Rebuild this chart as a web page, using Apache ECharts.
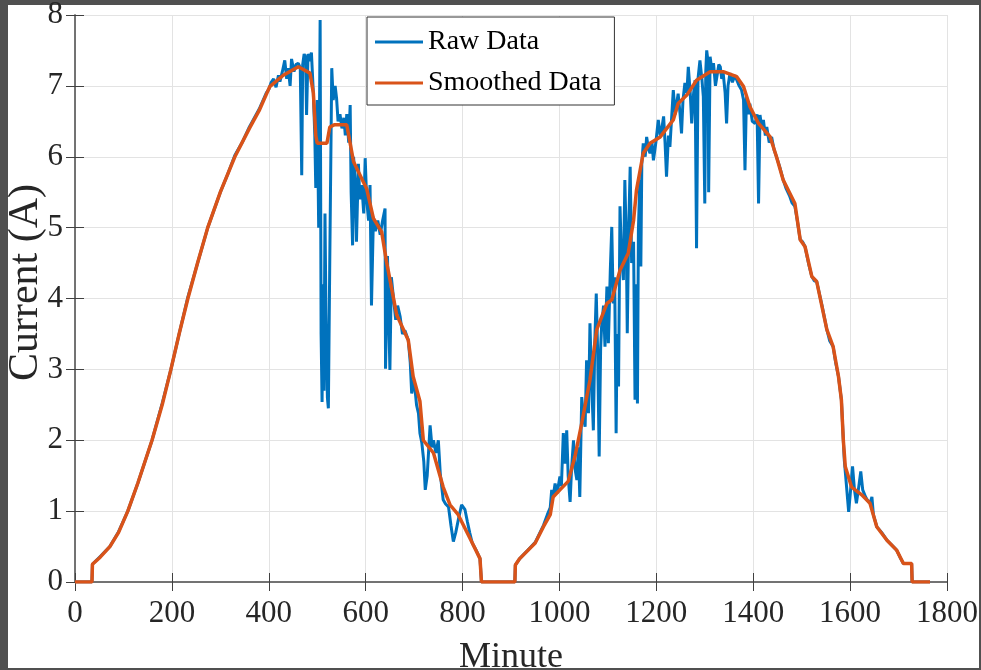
<!DOCTYPE html>
<html>
<head>
<meta charset="utf-8">
<script src="https://cdn.jsdelivr.net/npm/echarts@6/dist/echarts.min.js"></script>
<style>
html,body{margin:0;padding:0;background:#505050;}
#frame{position:absolute;left:8px;top:5px;width:971px;height:663px;background:#fff;}
#chart{position:absolute;left:0;top:0;width:981px;height:670px;}
</style>
</head>
<body>
<div id="frame"></div>
<div id="chart"></div>
<script>
// ---- data (minute, current in A) ----
const xTicks = [0, 200, 400, 600, 800, 1000, 1200, 1400, 1600, 1800];
const yTicks = [0, 1, 2, 3, 4, 5, 6, 7, 8];
const seriesNames = ['Raw Data', 'Smoothed Data'];

const rawData = [
[0,0],[35,0],[36,0.25],[52,0.36],[72,0.5],[90,0.71],[109,1.0],[130,1.4],[159,2.0],[180,2.52],[198,3.0],[215,3.5],[233,4.02],[253,4.5],[274,5.0],[300,5.5],[315,5.75],[330,6.02],[345,6.2],[360,6.42],[380,6.67],[395,6.9],
[400,6.95],[405,7.05],[410,7.1],[415,6.98],[420,7.15],[423,7.06],[428,7.2],[433,7.36],[437,7.1],[440,7.25],[444,7.0],[447,7.38],[452,7.2],[456,7.3],[461,7.32],[465,7.25],[468,5.74],[470,7.3],[473,7.45],[476,7.4],[478,6.59],[481,7.45],[485,7.35],[488,7.47],[492,6.9],[495,6.3],[497,5.56],[500,6.8],[503,5.0],[506,7.93],[508,3.5],[510,2.54],[512,4.2],[514,2.7],[516,5.2],[518,3.8],[521,2.6],[523,2.45],[526,4.6],[530,7.25],[533,6.8],[537,7.0],[540,6.82],[543,6.5],[547,6.6],[551,6.4],[555,6.55],[558,6.3],[561,6.6],[565,6.2],[568,6.73],[570,5.5],[573,4.75],[575,6.0],[578,5.7],[581,4.8],[585,5.9],[588,5.4],[592,5.6],[596,5.2],[599,5.98],[602,5.4],[606,5.1],[609,5.6],[612,3.9],[616,5.15],[620,4.95],[625,5.1],[630,4.9],[635,5.1],[640,5.27],[641,3.01],[645,4.6],[650,2.99],[653,4.3],[657,4.3],[662,3.7],[666,3.9],[671,3.75],[676,3.5],[681,3.55],[688,3.41],[692,3.1],[695,2.66],[700,2.85],[705,2.5],[709,2.38],[712,2.1],[716,1.96],[720,1.7],[723,1.3],[727,1.5],[733,2.21],[737,1.9],[740,2.0],[745,1.82],[750,2.0],[754,1.53],[760,1.16],[765,1.1],[771,1.06],[776,0.8],[781,0.57],[786,0.7],[791,0.87],[798,1.09],[805,1.02],[810,0.85],[815,0.69],[820,0.55],[828,0.45],[836,0.33],[839,0],[908,0],
[909,0.24],[918,0.33],[935,0.45],[950,0.56],[967,0.8],[975,0.95],[981,1.05],[984,1.3],[987,1.2],[991,1.39],[995,1.25],[1001,1.49],[1004,1.35],[1008,2.1],[1012,1.67],[1015,2.14],[1018,1.5],[1022,1.13],[1025,1.6],[1029,2.0],[1032,1.6],[1036,1.44],[1039,1.9],[1042,1.2],[1046,2.61],[1050,2.3],[1053,2.19],[1056,3.13],[1060,2.38],[1063,3.65],[1066,2.9],[1070,2.14],[1073,3.4],[1076,4.07],[1079,3.2],[1082,1.77],[1085,3.3],[1087,3.6],[1091,3.9],[1094,3.32],[1098,4.17],[1101,3.37],[1105,4.4],[1108,5.01],[1111,3.93],[1114,4.3],[1117,2.1],[1119,3.5],[1122,2.76],[1125,5.3],[1128,4.6],[1132,4.26],[1135,5.67],[1138,4.8],[1140,3.51],[1143,5.0],[1146,5.86],[1149,4.5],[1153,4.8],[1156,2.57],[1158,4.2],[1161,2.52],[1163,4.97],[1166,5.67],[1168,4.45],[1170,5.9],[1173,6.19],[1177,6.0],[1180,6.28],[1184,6.1],[1187,6.05],[1191,6.2],[1194,5.95],[1199,6.2],[1204,6.52],[1208,6.3],[1211,6.38],[1215,6.57],[1218,6.2],[1221,5.72],[1225,6.3],[1228,6.14],[1232,6.6],[1235,6.94],[1239,6.6],[1242,6.75],[1245,6.89],[1249,6.6],[1252,6.33],[1255,6.8],[1259,7.04],[1263,6.9],[1266,7.27],[1270,6.9],[1273,6.47],[1277,6.9],[1280,7.08],[1283,4.71],[1286,7.1],[1290,7.36],[1294,7.1],[1297,6.85],[1300,5.34],[1302,7.2],[1304,7.5],[1307,7.32],[1308,5.5],[1311,7.41],[1315,7.2],[1318,7.32],[1322,7.0],[1325,7.13],[1329,7.3],[1332,7.27],[1335,7.1],[1338,7.18],[1342,6.9],[1345,6.47],[1348,7.0],[1352,7.18],[1357,7.05],[1362,7.15],[1366,7.13],[1371,7.0],[1376,6.94],[1380,6.8],[1383,5.81],[1386,6.85],[1390,6.6],[1393,6.75],[1398,6.5],[1404,6.47],[1408,6.6],[1411,5.34],[1414,6.59],[1418,6.4],[1421,6.52],[1425,6.3],[1428,6.42],[1433,6.2],[1438,6.28],[1443,6.1],[1448,6.0],
[1455,5.85],[1462,5.67],[1468,5.55],[1475,5.45],[1480,5.35],[1486,5.3],[1491,5.1],[1497,4.83],[1502,4.8],[1507,4.73],[1514,4.5],[1521,4.31],[1526,4.25],[1531,4.24],[1542,3.9],[1552,3.56],[1558,3.4],[1565,3.32],[1570,3.1],[1576,2.9],[1582,2.57],[1586,2.0],[1588,1.72],[1592,1.4],[1597,0.99],[1601,1.3],[1605,1.63],[1609,1.3],[1613,1.11],[1617,1.3],[1622,1.56],[1626,1.3],[1632,1.2],[1636,1.15],[1641,1.11],[1645,1.2],[1648,0.95],[1655,0.78],[1665,0.7],[1676,0.59],[1686,0.52],[1696,0.45],[1703,0.35],[1710,0.26],[1727,0.26],[1728,0],[1765,0]
];

const smoothData = [
[0,0],[35,0],[36,0.25],[52,0.35],[72,0.5],[90,0.7],[109,1.0],[130,1.4],[159,2.0],[180,2.5],[198,3.0],[215,3.5],[233,4.0],[253,4.5],[274,5.0],[300,5.5],[330,6.0],[360,6.4],[380,6.65],[402,6.99],[430,7.15],[461,7.27],[485,7.18],[492,6.9],[497,6.3],[500,6.19],[520,6.19],[526,6.42],[535,6.45],[561,6.45],[575,5.93],[602,5.55],[616,5.13],[633,4.94],[643,4.52],[664,3.77],[688,3.41],[698,2.9],[712,2.55],[719,2.0],[740,1.82],[760,1.34],[774,1.09],[791,0.95],[815,0.62],[836,0.33],[839,0],[908,0],
[909,0.24],[918,0.33],[950,0.55],[967,0.78],[981,0.95],[987,1.2],[1001,1.3],[1018,1.42],[1032,1.77],[1046,2.24],[1063,2.85],[1077,3.56],[1098,3.93],[1108,3.98],[1125,4.4],[1142,4.64],[1153,5.1],[1159,5.53],[1173,6.05],[1187,6.19],[1208,6.28],[1235,6.52],[1245,6.75],[1263,6.87],[1283,7.08],[1311,7.2],[1338,7.2],[1366,7.13],[1380,6.99],[1393,6.71],[1411,6.47],[1435,6.28],[1448,6.0],[1462,5.67],[1486,5.34],[1497,4.83],[1507,4.73],[1521,4.31],[1531,4.24],[1552,3.56],[1565,3.32],[1576,2.9],[1582,2.57],[1586,2.0],[1590,1.63],[1603,1.34],[1624,1.23],[1641,1.11],[1655,0.78],[1676,0.59],[1696,0.45],[1710,0.26],[1727,0.26],[1728,0],[1765,0]
];

const FONT = 'Liberation Serif';
const chart = echarts.init(document.getElementById('chart'), null, {renderer: 'canvas'});

const tickStyle = {show: true, inside: true, length: 9, lineStyle: {color: '#404040', width: 1}};
const lineAxis = {show: true, lineStyle: {color: '#6b6b6b', width: 1.5}};
const plain = v => String(v);

chart.setOption({
  backgroundColor: 'transparent',
  animation: false,
  grid: {left: 75, top: 15, width: 872, height: 567, containLabel: false, outerBoundsMode: 'none'},
  legend: {
    orient: 'vertical', left: 367, top: 17,
    padding: [11, 13, 8, 8], itemGap: 13, itemWidth: 48, itemHeight: 3,
    icon: 'rect',
    borderColor: '#333', borderWidth: 1, backgroundColor: '#fff',
    textStyle: {fontFamily: FONT, fontSize: 28, color: '#000', lineHeight: 28},
    data: seriesNames
  },
  xAxis: [{
    type: 'value', min: xTicks[0], max: xTicks[xTicks.length - 1], interval: 200,
    position: 'bottom',
    name: 'Minute', nameLocation: 'middle', nameGap: 58, nameMoveOverlap: false,
    nameTextStyle: {fontFamily: FONT, fontSize: 36, color: '#262626'},
    axisLine: lineAxis, axisTick: tickStyle,
    axisLabel: {fontFamily: FONT, fontSize: 31, color: '#262626', margin: 16, formatter: plain},
    splitLine: {show: true, lineStyle: {color: '#e3e3e3', width: 1}}
  }, {
    type: 'value', min: xTicks[0], max: xTicks[xTicks.length - 1], interval: 200,
    position: 'top',
    axisLine: lineAxis, axisTick: tickStyle, axisLabel: {show: false}, splitLine: {show: false}
  }],
  yAxis: [{
    type: 'value', min: yTicks[0], max: yTicks[yTicks.length - 1], interval: 1,
    position: 'left',
    name: 'Current (A)', nameLocation: 'middle', nameGap: 28, nameMoveOverlap: false,
    nameTextStyle: {fontFamily: FONT, fontSize: 42, color: '#262626', padding: [0, 0, 0, 32]},
    axisLine: lineAxis, axisTick: tickStyle,
    axisLabel: {fontFamily: FONT, fontSize: 31, color: '#262626', margin: 12, formatter: plain},
    splitLine: {show: true, lineStyle: {color: '#e3e3e3', width: 1}}
  }, {
    type: 'value', min: yTicks[0], max: yTicks[yTicks.length - 1], interval: 1,
    position: 'right',
    axisLine: lineAxis, axisTick: tickStyle, axisLabel: {show: false}, splitLine: {show: false}
  }],
  series: [{
    name: seriesNames[0], type: 'line', data: rawData,
    xAxisIndex: 0, yAxisIndex: 0,
    showSymbol: false, symbol: 'none',
    lineStyle: {color: '#0072BD', width: 3}, itemStyle: {color: '#0072BD'}, z: 2
  }, {
    name: seriesNames[1], type: 'line', data: smoothData,
    xAxisIndex: 0, yAxisIndex: 0,
    showSymbol: false, symbol: 'none',
    lineStyle: {color: '#D95319', width: 3.5}, itemStyle: {color: '#D95319'}, z: 3
  }]
});
</script>
</body>
</html>
